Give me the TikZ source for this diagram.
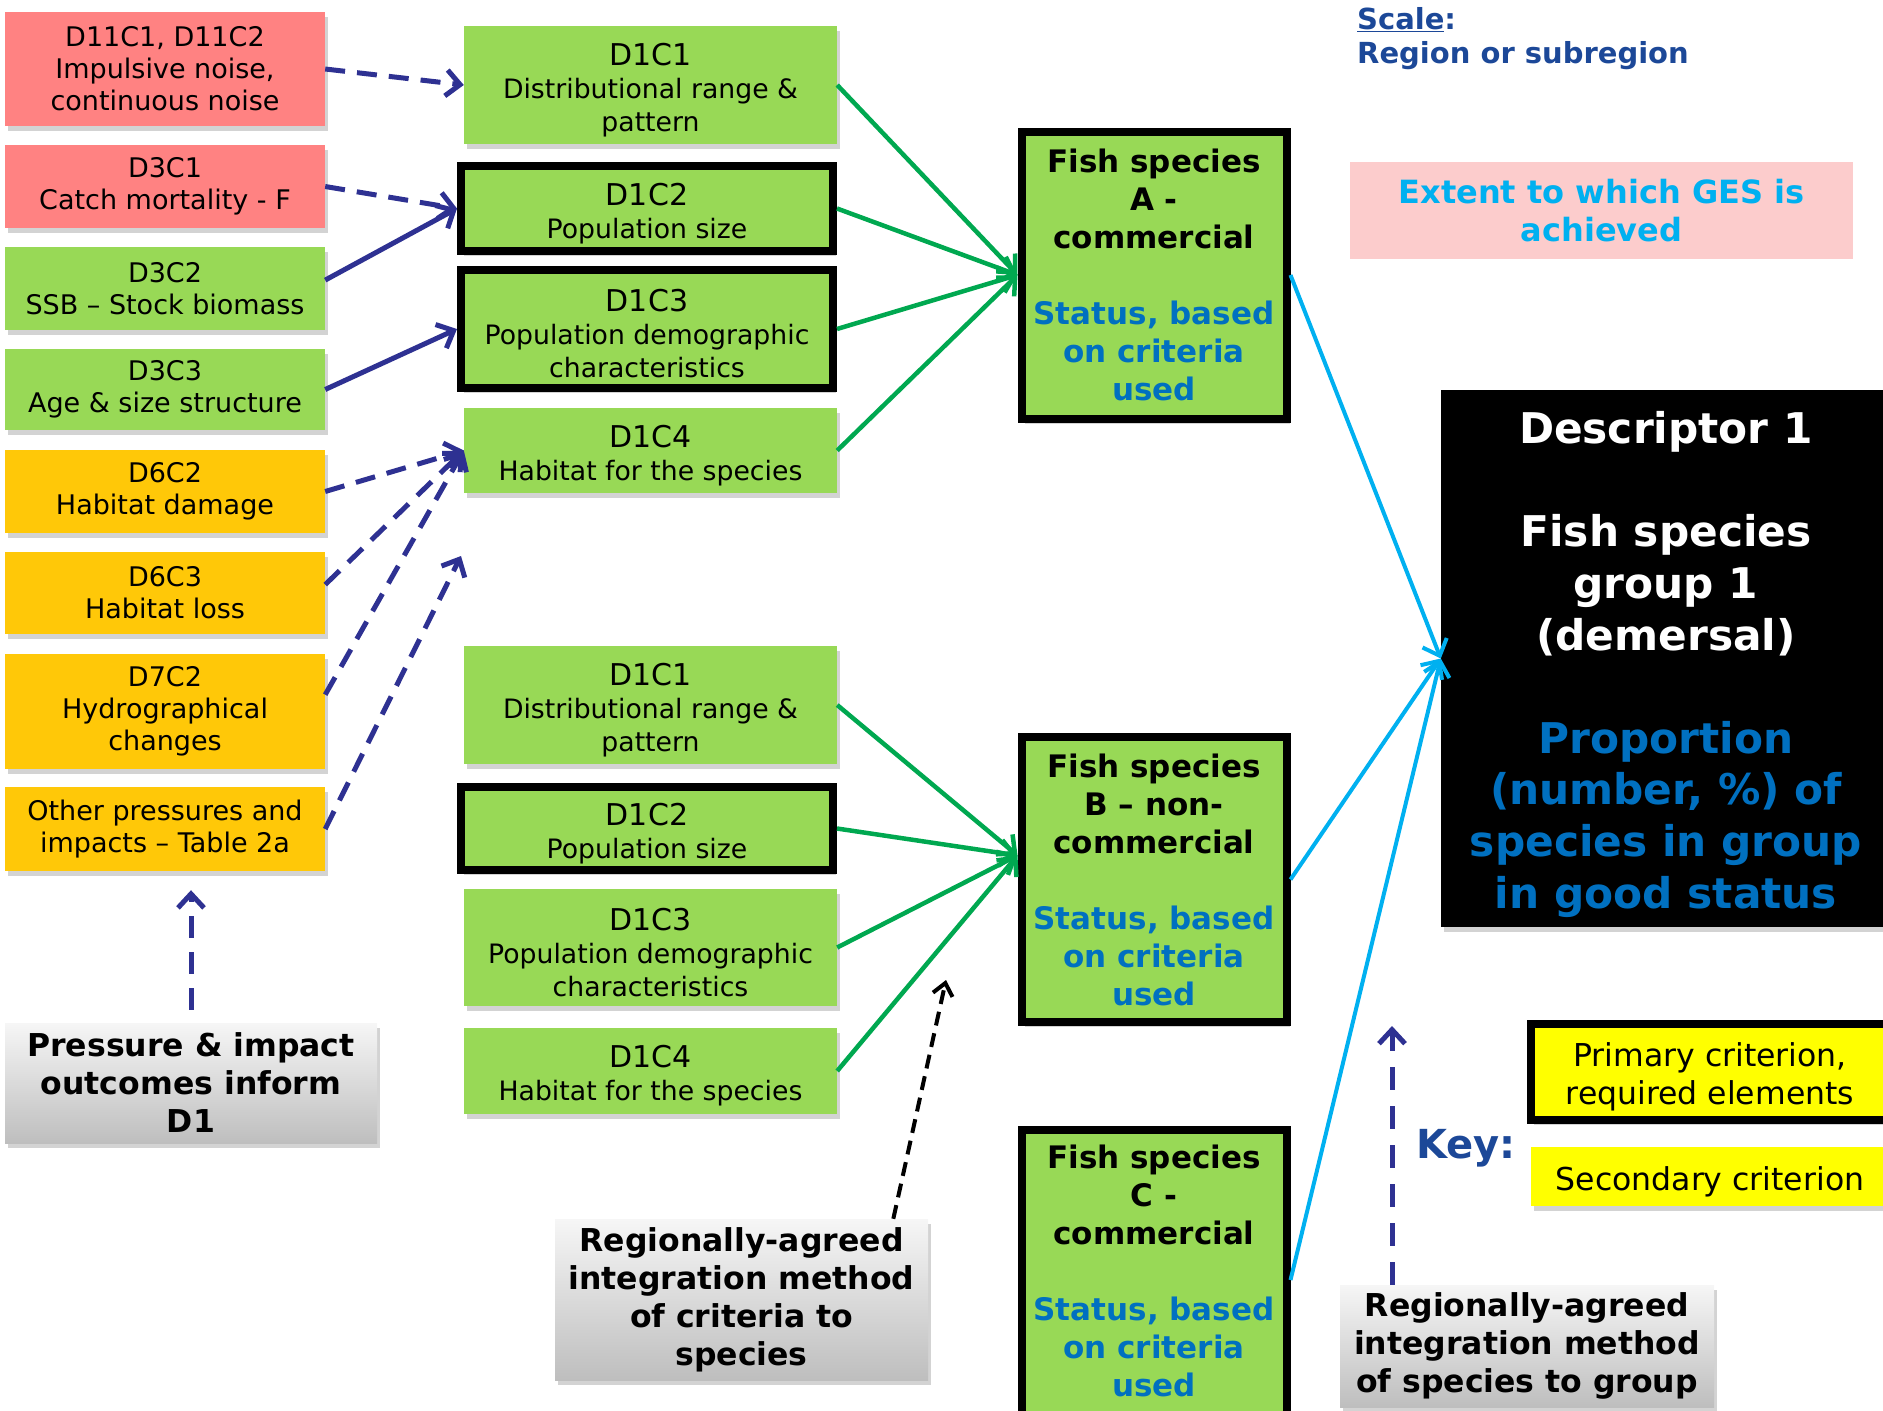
\documentclass[tikz,border=0pt]{standalone}
\usepackage{fontspec}
\setmainfont{DejaVu Sans}
\usepackage{tikz}
\usetikzlibrary{arrows.meta}
\usetikzlibrary{shadows}
\definecolor{pressred}{RGB}{255,130,130}
\definecolor{critgreen}{RGB}{152,217,86}
\definecolor{pressorange}{RGB}{255,200,8}
\definecolor{keyyellow}{RGB}{255,255,0}
\definecolor{arrownavy}{RGB}{46,49,146}
\definecolor{arrowgreen}{RGB}{0,168,80}
\definecolor{arrowblue}{RGB}{0,176,240}
\definecolor{fishblue}{RGB}{0,112,192}
\definecolor{scaleblue}{RGB}{28,72,152}
\definecolor{gespink}{RGB}{252,204,204}
\definecolor{greytop}{RGB}{246,246,246}
\definecolor{greybottom}{RGB}{190,190,190}
\newcommand{\toplift}[1]{\rule{0pt}{#1}}
\newcommand{\crittitle}[1]{{\fontsize{30}{33}\selectfont\toplift{32pt}#1}}
\newcommand{\fishstatus}{\textcolor{fishblue}{Status, based}\\\textcolor{fishblue}{on criteria}\\\textcolor{fishblue}{used}}
\tikzset{boxshadow/.style = {drop shadow = {shadow xshift = 3pt, shadow yshift = -5pt, opacity = 0.35}},
         pressbox/.style = {boxshadow, minimum width = 320pt, inner sep = 0pt, align = center,
                            font = \fontsize{27}{32}\selectfont},
         critbox/.style = {boxshadow, fill = critgreen, minimum width = 373pt, inner sep = 0pt,
                           align = center, font = \fontsize{26.7}{33}\selectfont},
         thickbox/.style = {draw = black, line width = 8pt, minimum width = 372pt},
         fishbox/.style = {boxshadow, fill = critgreen, draw = black, line width = 8pt,
                           minimum width = 265pt, inner sep = 0pt, align = center,
                           font = \fontsize{31}{38}\selectfont\bfseries},
         greybox/.style = {boxshadow, top color = greytop, bottom color = greybottom,
                           minimum width = 373pt, inner sep = 0pt, align = center,
                           font = \fontsize{31.5}{38}\selectfont\bfseries},
         keybox/.style = {boxshadow, fill = keyyellow, minimum width = 358pt, inner sep = 0pt,
                          align = center, font = \fontsize{31.5}{38}\selectfont},
         navyarrow/.style = {draw = arrownavy, line width = 5pt,
                             -{Straight Barb[length = 14pt, width = 26pt]}},
         navydash/.style = {navyarrow, dash pattern = on 20pt off 12pt},
         greenarrow/.style = {draw = arrowgreen, line width = 4.5pt,
                              -{Straight Barb[length = 14pt, width = 26pt]}},
         bluearrow/.style = {draw = arrowblue, line width = 4pt,
                             -{Straight Barb[length = 14pt, width = 26pt]}},
         blackdash/.style = {draw = black, line width = 4pt, dash pattern = on 14pt off 8pt,
                             -{Straight Barb[length = 12pt, width = 20pt]}}}

\begin{document}
\begin{tikzpicture}[x = 1pt, y = -1pt]
      \useasboundingbox (0, 0) rectangle (1883, 1411);
      \clip (0, 0) rectangle (1883, 1411);

      % pressures feeding the criteria
      \node [pressbox, fill = pressred, minimum height = 114pt] (d11) at (165, 69) {D11C1, D11C2\\Impulsive noise,\\continuous noise};
      \node [pressbox, fill = pressred, minimum height = 83pt] (d3c1) at (165, 186.5) {D3C1\\Catch mortality - F};
      \node [pressbox, fill = critgreen, minimum height = 83pt] (d3c2) at (165, 288.5) {D3C2\\SSB – Stock biomass};
      \node [pressbox, fill = critgreen, minimum height = 81pt] (d3c3) at (165, 389.5) {D3C3\\Age \& size structure};
      \node [pressbox, fill = pressorange, minimum height = 83pt] (d6c2) at (165, 491.5) {D6C2\\Habitat damage};
      \node [pressbox, fill = pressorange, minimum height = 82pt] (d6c3) at (165, 593) {D6C3\\Habitat loss};
      \node [pressbox, fill = pressorange, minimum height = 115pt] (d7c2) at (165, 711.5) {D7C2\\Hydrographical\\changes};
      \node [pressbox, fill = pressorange, minimum height = 84pt] (otherp) at (165, 829) {Other pressures and\\impacts – Table 2a};
      \node [greybox, minimum width = 372pt, minimum height = 120pt] (pressnote) at (191, 1083) {Pressure \& impact\\outcomes inform\\D1};

      % criteria, species A
      \node [critbox, minimum height = 118pt] (topc1) at (650.5, 85) {\crittitle{D1C1}\\Distributional range \&\\pattern};
      \node [critbox, thickbox, minimum height = 85pt] (topc2) at (647, 208.5) {\crittitle{D1C2}\\Population size};
      \node [critbox, thickbox, minimum height = 118pt] (topc3) at (647, 329) {\crittitle{D1C3}\\Population demographic\\characteristics};
      \node [critbox, minimum height = 85pt] (topc4) at (650.5, 450.5) {\crittitle{D1C4}\\Habitat for the species};

      % criteria, species B
      \node [critbox, minimum height = 118pt] (botc1) at (650.5, 705) {\crittitle{D1C1}\\Distributional range \&\\pattern};
      \node [critbox, thickbox, minimum height = 83pt] (botc2) at (647, 828.5) {\crittitle{D1C2}\\Population size};
      \node [critbox, minimum height = 117pt] (botc3) at (650.5, 947.5) {\crittitle{D1C3}\\Population demographic\\characteristics};
      \node [critbox, minimum height = 86pt] (botc4) at (650.5, 1071) {\crittitle{D1C4}\\Habitat for the species};
      \node [greybox, minimum height = 161pt] (critspec) at (741.5, 1299.5) {Regionally-agreed\\integration method\\of criteria to\\species};

      % species
      \node [fishbox, minimum height = 287pt] (fishA) at (1154, 275) {Fish species\\A -\\commercial\\[38pt]\fishstatus};
      \node [fishbox, minimum height = 285pt] (fishB) at (1154, 879.5) {Fish species\\B – non-\\commercial\\[38pt]\fishstatus};
      \node [fishbox, minimum height = 301pt] (fishC) at (1154, 1280) {Fish species\\C -\\commercial\\[38pt]\fishstatus\rule[-19pt]{0pt}{19pt}};

      % descriptor and key
      \node [anchor = base west, inner sep = 0pt, text = scaleblue, font = \fontsize{29}{35}\selectfont\bfseries] (scale) at (1357, 29) {\underline{Scale}:};
      \node [anchor = base west, inner sep = 0pt, text = scaleblue, font = \fontsize{29}{35}\selectfont\bfseries] (region) at (1357, 63) {Region or subregion};
      \node [fill = gespink, minimum width = 503pt, minimum height = 97pt, inner sep = 0pt, align = center,
             text = arrowblue, font = \fontsize{32}{38}\selectfont\bfseries] (extent) at (1601.5, 210.5) {Extent to which GES is\\achieved};
      \node [boxshadow, fill = black, minimum width = 450pt, minimum height = 537pt, inner sep = 0pt, align = center,
             text = white, font = \fontsize{42.3}{51.6}\selectfont\bfseries] (desc) at (1666, 658.5)
            {\toplift{44pt}Descriptor 1\\[51.6pt]Fish species\\group 1\\(demersal)\\[51.6pt]\textcolor{fishblue}{Proportion}\\\textcolor{fishblue}{(number, \%) of}\\\textcolor{fishblue}{species in group}\\\textcolor{fishblue}{in good status}};
      \node [anchor = base west, inner sep = 0pt, text = scaleblue, font = \fontsize{40}{48}\selectfont\bfseries] (keylabel) at (1416, 1158) {Key:};
      \node [keybox, draw = black, line width = 8pt, minimum height = 96pt] (primkey) at (1710, 1072) {\toplift{34pt}Primary criterion,\\required elements};
      \node [keybox, minimum height = 59pt] (seckey) at (1710, 1176.5) {\toplift{34pt}Secondary criterion};
      \node [greybox, minimum width = 374pt, minimum height = 122pt] (specgroup) at (1527, 1346) {Regionally-agreed\\integration method\\of species to group};

      \coordinate (loose) at (461, 556);
      \coordinate (critend) at (946, 980);
      \coordinate (keytip) at (1392, 1026);

      \draw [navydash] (d11.east) -- (topc1.west);
      \draw [navydash] (d3c1.east) -- (topc2.west);
      \draw [navyarrow] (d3c2.3) -- (topc2.west);
      \draw [navyarrow] (d3c3.east) -- (topc3.west);
      \draw [navydash] (d6c2.east) -- (topc4.west);
      \draw [navydash] (d6c3.3) -- (topc4.west);
      \draw [navydash] (d7c2.6) -- (topc4.west);
      \draw [navydash] (otherp.east) -- (loose);
      \draw [navydash, dash pattern = on 22pt off 14pt, shorten < = 13pt, shorten > = 19pt] (pressnote.north) -- (pressnote.north |- otherp.south);

      \draw [greenarrow] (topc1.east) -- (fishA.west);
      \draw [greenarrow] (topc2.east) -- (fishA.west);
      \draw [greenarrow] (topc3.east) -- (fishA.west);
      \draw [greenarrow] (topc4.east) -- (fishA.west);
      \draw [greenarrow] (botc1.east) -- (fishB.170);
      \draw [greenarrow] (botc2.east) -- (fishB.170);
      \draw [greenarrow] (botc3.east) -- (fishB.170);
      \draw [greenarrow] (botc4.east) -- (fishB.170);
      \draw [blackdash] (critspec.28) -- (critend);

      \draw [bluearrow] (fishA.east) -- (desc.west);
      \draw [bluearrow] (fishB.east) -- (desc.west);
      \draw [bluearrow] (fishC.east) -- (desc.west);
      \draw [navydash, dash pattern = on 23pt off 16pt] (specgroup.north -| keytip) -- (keytip);
\end{tikzpicture}
\end{document}
